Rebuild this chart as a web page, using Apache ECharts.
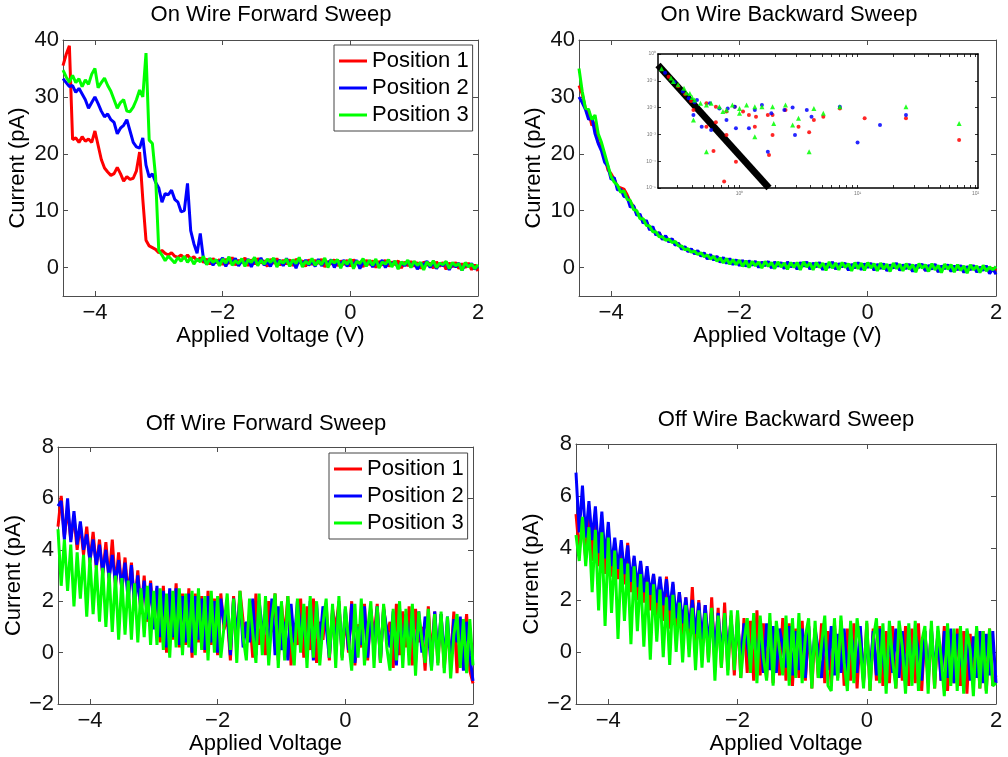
<!DOCTYPE html>
<html>
<head>
<meta charset="utf-8">
<title>Wire sweeps</title>
<script src="https://cdn.jsdelivr.net/npm/echarts@6/dist/echarts.min.js"></script>
<style>
  html, body { margin: 0; padding: 0; background: #ffffff; }
  #chart { width: 1008px; height: 757px; }
</style>
</head>
<body>
<div id="chart"></div>
<script>
// ---------------- data ----------------
const voltage = [
  -4.5,-4.45,-4.4,-4.35,-4.3,-4.25,-4.2,-4.15,-4.1,-4.05,
  -4,-3.95,-3.9,-3.85,-3.8,-3.75,-3.7,-3.65,-3.6,-3.55,
  -3.5,-3.45,-3.4,-3.35,-3.3,-3.25,-3.2,-3.15,-3.1,-3.05,
  -3,-2.95,-2.9,-2.85,-2.8,-2.75,-2.7,-2.65,-2.6,-2.55,
  -2.5,-2.45,-2.4,-2.35,-2.3,-2.25,-2.2,-2.15,-2.1,-2.05,
  -2,-1.95,-1.9,-1.85,-1.8,-1.75,-1.7,-1.65,-1.6,-1.55,
  -1.5,-1.45,-1.4,-1.35,-1.3,-1.25,-1.2,-1.15,-1.1,-1.05,
  -1,-0.95,-0.9,-0.85,-0.8,-0.75,-0.7,-0.65,-0.6,-0.55,
  -0.5,-0.45,-0.4,-0.35,-0.3,-0.25,-0.2,-0.15,-0.1,-0.05,
  0,0.05,0.1,0.15,0.2,0.25,0.3,0.35,0.4,0.45,
  0.5,0.55,0.6,0.65,0.7,0.75,0.8,0.85,0.9,0.95,
  1,1.05,1.1,1.15,1.2,1.25,1.3,1.35,1.4,1.45,
  1.5,1.55,1.6,1.65,1.7,1.75,1.8,1.85,1.9,1.95,
  2
];

// On wire, forward sweep (pA)
const onFwdP1 = [
  35.5,37.5,39,22.5,22.8,22,23,22.2,22.6,22,
  24,21.5,19,17.5,16.8,16.2,16.5,17.6,16.5,15.2,
  16,15.5,15.7,17,20.3,12,4.8,3.8,3.5,3.2,
  2.6,3,2.5,2.2,2.6,2,1.8,2.2,1.6,2.2,
  1.5,1.9,1.2,1.7,0.9,1.5,0.6,1.6,0.8,1.4,
  0.5,1.5,0.7,1.8,0.4,1.3,0.9,1.7,0.3,1.4,
  0.6,1.6,0.8,1.2,0.2,1.5,0.7,1.6,0.4,1.3,
  0.6,1.4,0.3,1.5,0.8,1.2,0.2,1.4,0.5,1.3,
  0.7,1.5,0.1,1.1,0.6,1.4,0.3,1.2,0.5,1.3,
  0.2,1.4,0.6,1.0,0.1,1.3,0.5,1.2,0.0,1.1,
  0.4,1.3,0.2,1.0,0.5,1.2,-0.1,1.0,0.3,1.1,
  0.2,0.9,-0.2,1.0,0.4,0.8,-0.1,1.0,0.2,0.9,
  -0.3,0.8,0.1,0.9,-0.2,0.7,0.0,0.8,-0.4,0.5,
  -0.6
];
const onFwdP2 = [
  33.2,32.5,31.8,32,30.8,31.5,30.5,29.5,28,29,
  30,28.8,27.5,26.5,27,26,25.5,23.5,24.5,25,
  26,24,22,21.2,21,22.8,18,15.9,16.5,15,
  14,11.5,13,12.8,13.6,12,11.5,9.8,10,14.8,
  6.5,4.2,2.5,6,1.5,0.6,1.6,0.4,1.3,0.9,
  1.7,0.2,1.4,0.8,1.6,0.3,1.2,0.7,1.5,0.1,
  1.3,0.6,1.7,0.4,1.1,0.2,1.5,0.8,1.3,0.3,
  1.6,0.5,1.2,-0.1,1.4,0.6,1.3,0.4,1.1,0.2,
  1.5,0.3,1.2,0.7,1.4,0.0,1.2,0.6,1.3,0.2,
  1.1,0.4,1.3,-0.2,1.0,0.5,1.2,0.1,0.9,0.4,
  1.3,0.0,1.0,0.6,1.1,-0.1,0.9,0.3,1.2,0.1,
  1.0,-0.3,0.8,0.4,1.1,0.0,0.9,-0.2,0.7,0.3,
  1.0,-0.4,0.7,0.1,0.8,-0.5,0.6,0.2,0.7,-0.3,
  0.3
];
const onFwdP3 = [
  34.7,33.5,32.6,33.8,32.5,33.2,31.8,33,32.2,34,
  35,31.6,32.5,33.3,32,31,29.5,28,29,29.5,
  27.5,27.4,28.2,29.5,31.2,30,37.7,22.4,21.8,16,
  3,2.2,1.2,2,1.4,0.8,1.8,1.1,2,0.9,
  1.7,0.6,1.5,1.0,2.0,0.5,1.6,0.9,1.4,0.3,
  1.5,0.8,1.9,0.4,1.2,0.7,1.6,0.2,1.4,0.9,
  1.8,0.3,1.3,0.6,1.5,0.9,1.7,0.1,1.2,0.8,
  1.5,0.2,1.4,0.7,1.8,0.1,1.1,0.6,1.6,0.4,
  1.2,0.5,1.7,0.0,1.3,0.8,1.4,-0.1,1.2,0.6,
  1.5,-0.2,1.1,0.7,1.6,0.2,1.3,0.4,1.5,-0.1,
  1.0,0.6,1.4,0.1,1.2,-0.3,1.0,0.5,1.3,0.0,
  1.1,0.4,0.9,-0.4,1.0,0.3,1.2,0.0,0.8,0.5,
  1.1,-0.2,0.9,0.3,0.7,-0.5,0.9,0.1,0.6,-0.2,
  0.5
];

// On wire, backward sweep (pA)
const onBwdP1 = [
  32,30.5,28,27.5,25,25.5,22,21.5,19.5,17.2,
  16.5,15.5,14.2,14,13.8,12.8,11.5,10.8,9.5,9.2,
  8,8.1,6.8,6.9,5.8,6.1,5,5.5,4.6,5,
  4.1,4.2,3.4,3.6,2.9,3.2,2.5,2.9,2.1,2.5,
  1.6,2.2,1.4,1.9,1.0,1.7,0.8,1.5,0.6,1.3,
  0.4,1.2,0.3,1.1,0.5,1.0,0.1,0.9,0.4,1.0,
  0.0,0.9,0.3,0.8,-0.1,0.9,0.2,0.7,-0.2,0.8,
  0.3,0.9,-0.2,0.7,0.2,0.8,-0.3,0.6,0.1,0.9,
  -0.2,0.6,0.2,0.7,-0.4,0.5,0.0,0.8,-0.3,0.6,
  0.1,0.7,-0.4,0.5,-0.1,0.6,-0.5,0.4,0.0,0.7,
  -0.4,0.4,-0.1,0.5,-0.6,0.3,0.1,0.5,-0.5,0.3,
  -0.2,0.5,-0.7,0.2,-0.1,0.4,-0.6,0.2,-0.3,0.3,
  -0.8,0.1,-0.3,0.3,-0.7,0.0,-0.4,0.2,-0.9,-0.1,
  -0.6
];
const onBwdP2 = [
  30,29,27.8,26,26.5,23.5,21.8,20.5,18.5,17.8,
  15.5,15.8,13.6,13.8,12.5,12.4,10.6,10.9,9.2,9.4,
  7.8,8.3,6.6,7.2,5.7,6.2,4.9,5.6,4.5,5.1,
  3.9,4.3,3.2,3.7,2.8,3.3,2.4,3.0,2.0,2.6,
  1.5,2.3,1.3,2.0,0.9,1.8,0.7,1.6,0.5,1.4,
  0.3,1.3,0.2,1.2,0.4,1.1,0.0,1.0,0.3,1.1,
  -0.1,1.0,0.2,0.9,-0.2,1.0,0.1,0.8,-0.3,0.9,
  0.2,1.0,-0.3,0.8,0.1,0.9,-0.4,0.7,0.0,1.0,
  -0.3,0.7,0.1,0.8,-0.5,0.6,-0.1,0.9,-0.4,0.7,
  0.0,0.8,-0.5,0.6,-0.2,0.7,-0.6,0.5,-0.1,0.8,
  -0.5,0.5,-0.2,0.6,-0.7,0.4,0.0,0.6,-0.6,0.4,
  -0.3,0.6,-0.8,0.3,-0.2,0.5,-0.7,0.3,-0.4,0.4,
  -0.9,0.2,-0.4,0.4,-0.8,0.1,-0.5,0.3,-1.1,-0.2,
  -1.2
];
const onBwdP3 = [
  35,31,28,27.8,26,26.8,23.5,22,20,18,
  16,15,14.5,13.2,13.5,12,11.8,10.2,10,8.6,
  8.6,7.4,7.3,6.3,6.3,5.4,5.4,4.8,5,4.4,
  4.6,3.8,3.8,3.1,3.3,2.7,2.9,2.3,2.6,1.9,
  2.2,1.5,2.0,1.1,1.7,0.8,1.6,0.6,1.4,0.5,
  1.3,0.2,1.2,0.0,1.1,0.3,1.0,-0.1,1.1,0.2,
  0.9,-0.2,1.0,0.1,0.8,-0.3,0.9,0.0,0.9,-0.4,
  1.0,0.1,0.8,-0.4,0.9,0.0,0.8,-0.5,1.0,-0.1,
  0.8,-0.4,0.9,0.0,0.7,-0.6,0.9,-0.2,0.8,-0.5,
  0.9,-0.1,0.7,-0.6,0.8,-0.3,0.6,-0.7,0.8,-0.2,
  0.6,-0.6,0.7,-0.3,0.5,-0.8,0.7,-0.1,0.5,-0.7,
  0.7,-0.4,0.4,-0.9,0.6,-0.3,0.5,-0.8,0.5,-0.5,
  0.3,-1.0,0.5,-0.4,0.3,-0.9,0.4,-0.6,0.1,-0.4,
  0.2
];

// Off wire, forward sweep (pA)
const offFwdP1 = [
  4.9,6.1,4.5,5.6,4.4,5.3,4.0,5.0,3.8,4.9,
  3.5,4.7,3.3,4.4,3.0,4.3,2.8,4.4,2.6,3.9,
  2.4,3.7,2.2,3.5,1.8,3.2,1.5,3.0,1.2,2.8,
  1.0,2.5,0.4,2.6,0.0,2.4,0.5,2.7,0.2,2.3,
  0.3,2.5,-0.2,2.3,0.4,2.2,0.0,2.4,0.3,2.1,
  -0.1,2.3,0.9,1.4,-0.3,2.2,0.4,2.4,1.2,0.6,
  1.5,-0.2,2.3,0.3,1.2,-0.1,2.0,0.8,2.3,-0.3,
  1.9,0.6,2.2,-0.5,1.0,0.3,2.1,-0.2,1.8,0.1,
  2.1,-0.4,1.2,0.5,1.9,-0.3,1.7,0.9,2.0,-0.2,
  1.4,0.0,2.0,-0.5,1.1,0.2,1.9,-0.3,1.7,0.6,
  1.9,-0.4,1.8,0.7,1.2,-0.6,1.9,-0.1,1.6,0.2,
  1.8,-0.5,1.7,0.4,1.0,-0.7,1.8,-0.2,1.6,-0.4,
  1.5,-0.6,0.9,-0.3,1.6,-0.8,1.3,0.3,1.5,-0.7,
  -1.2
];
const offFwdP2 = [
  5.7,5.9,4.4,6.0,4.3,5.5,4.2,5.1,4.0,4.6,
  3.6,4.4,3.4,4.2,3.1,4.0,2.9,3.8,2.7,3.6,
  2.5,3.5,2.0,3.4,1.8,3.0,1.6,2.8,1.3,2.7,
  0.9,2.6,0.6,2.4,0.2,2.5,0.6,2.5,0.3,2.2,
  0.4,2.3,0.0,2.2,0.5,2.1,0.1,2.2,0.4,2.0,
  0.0,2.1,1.1,1.6,-0.1,2.1,0.5,2.2,0.2,1.2,
  0.4,2.1,-0.1,2.0,0.9,1.3,0.3,2.1,-0.1,1.8,
  0.1,1.2,-0.3,1.9,0.4,2.0,0.9,1.1,-0.1,2.0,
  -0.3,1.9,0.3,1.8,1.0,-0.2,1.6,0.2,1.9,-0.1,
  1.7,0.1,1.9,-0.4,1.0,0.3,1.8,-0.2,1.6,0.1,
  1.8,-0.3,1.7,0.9,0.2,1.6,-0.5,1.7,0.0,1.5,
  0.3,1.6,-0.4,1.6,0.0,1.4,0.7,-0.6,1.6,-0.1,
  1.5,-0.3,1.4,-0.5,1.3,0.4,1.4,-0.7,1.2,-0.1,
  -1.1
];
const offFwdP3 = [
  4.8,2.6,4.4,2.4,4.2,1.8,3.9,2.1,3.8,1.4,
  3.7,1.5,3.4,1.2,3.3,1.0,3.1,0.8,3.0,0.5,
  2.9,0.7,2.8,0.5,2.7,0.4,2.5,0.6,2.6,0.3,
  2.4,0.3,2.5,0.1,2.3,-0.2,2.4,0.2,2.5,-0.1,
  2.3,0.2,2.4,-0.1,2.5,0.1,2.2,-0.3,2.4,0.0,
  2.2,-0.2,1.0,2.3,0.1,2.1,-0.4,2.4,0.6,-0.3,
  2.1,0.8,-0.4,2.3,-0.1,2.2,-0.5,1.3,2.3,-0.6,
  2.0,-0.3,2.2,0.6,-0.5,2.1,0.0,1.9,-0.6,2.2,
  -0.2,2.0,-0.5,1.1,2.1,-0.2,1.9,-0.6,2.2,-0.3,
  1.8,0.5,-0.7,1.9,-0.2,2.1,-0.5,0.9,2.0,-0.6,
  1.8,-0.4,1.9,0.2,-0.7,1.7,-0.3,2.0,-0.6,1.7,
  -0.5,1.9,-0.9,1.6,0.5,-0.4,1.7,-0.7,1.5,-0.5,
  1.6,-0.8,1.4,-1.0,0.7,1.5,-0.6,1.3,-0.8,1.3,
  -0.5
];

// Off wire, backward sweep (pA)
const offBwdP1 = [
  5.3,3.9,5.0,3.6,5.5,3.5,5.1,3.3,4.7,3.0,
  4.5,2.9,4.2,2.8,4.0,2.6,4.2,2.3,3.6,2.0,
  3.4,1.9,3.2,1.6,3.0,1.4,2.8,1.2,2.9,0.9,
  2.6,0.7,2.3,0.5,2.1,0.3,2.5,0.1,2.0,-0.1,
  1.8,-0.3,2.1,-0.5,1.7,-0.6,1.9,-0.7,1.4,-0.9,
  1.5,-1.0,1.3,-0.8,1.2,-1.1,1.6,-0.9,1.1,-1.0,
  1.2,-1.2,1.0,-0.9,1.3,-1.1,1.1,-1.3,0.9,-1.0,
  1.2,-1.1,1.0,-1.4,0.9,-1.0,1.1,-1.2,0.8,-1.3,
  1.1,-1.0,1.2,-1.3,0.9,-1.1,1.1,-1.4,0.8,-1.2,
  1.1,-1.5,0.9,-1.1,1.0,-1.3,0.8,-1.2,1.0,-1.4,
  0.8,-1.1,1.0,-1.3,0.9,-1.2,1.1,-1.5,0.8,-1.2,
  0.9,-1.4,0.8,-1.1,1.0,-1.5,0.7,-1.2,0.9,-1.3,
  0.8,-1.6,0.7,-1.2,0.9,-1.4,0.8,-1.5,0.9,-1.3,
  -0.9
];
const offBwdP2 = [
  6.9,4.6,6.4,4.4,5.8,4.3,5.6,3.8,5.4,3.6,
  5.0,3.3,4.4,3.2,4.3,3.0,4.1,2.7,3.7,2.5,
  3.5,2.3,3.3,2.2,3.0,1.9,2.9,1.8,2.8,1.6,
  2.7,1.3,2.3,1.1,2.1,0.9,2.0,0.7,1.9,0.5,
  1.8,0.3,1.6,0.1,1.5,-0.1,1.4,0.0,1.3,-0.3,
  1.2,-0.4,1.1,0.3,-0.5,1.2,-0.6,1.0,-0.8,1.1,
  -0.7,1.0,-0.8,0.9,0.2,-0.6,1.0,-0.9,0.8,-0.7,
  0.9,-1.0,1.0,-0.8,0.9,0.1,-1.0,0.8,-0.7,1.0,
  -0.9,0.7,-0.8,0.9,-1.0,0.8,0.0,-0.8,1.0,-1.1,
  0.7,-0.9,0.8,-0.9,0.9,-0.2,-1.1,0.7,-0.8,0.9,
  -1.0,0.8,-1.2,0.9,-0.9,0.7,0.1,-1.1,0.8,-1.0,
  0.9,-0.8,0.7,-1.1,0.8,-1.0,0.9,-1.2,0.7,-0.2,
  -0.9,0.8,-1.1,0.6,-1.0,0.8,-1.2,0.7,-0.9,0.8,
  -1.2
];
const offBwdP3 = [
  4.5,3.5,5.2,3.3,4.8,2.3,4.7,1.6,4.6,1.0,
  4.4,1.5,3.9,0.5,3.6,1.2,3.4,0.3,3.3,0.8,
  3.0,0.2,2.7,-0.3,2.6,0.4,2.4,-0.2,2.1,-0.5,
  2.2,0.0,1.9,-0.4,1.8,-0.2,1.7,-0.7,1.6,-0.6,
  1.5,-0.4,1.7,-1.1,1.4,-0.6,1.5,-0.9,1.6,-0.7,
  1.6,-1.0,0.4,1.3,-0.8,1.5,-1.2,1.4,-0.2,-1.1,
  1.5,-1.3,1.2,0.1,-0.9,1.4,-1.3,1.3,-1.0,1.5,
  -1.2,0.6,1.3,-1.4,1.2,-1.0,0.3,1.4,-1.3,-1.5,
  1.3,-1.1,1.4,-0.4,-1.5,1.2,-1.2,1.3,0.2,-1.4,
  1.2,-1.5,0.5,1.3,-1.2,1.1,-1.6,1.2,-0.3,-1.4,
  1.2,0.2,-1.6,1.1,-1.3,1.2,-1.5,0.4,1.0,-1.6,
  1.2,-1.4,1.0,-0.2,-1.7,1.1,-1.3,0.9,-1.5,1.0,
  -1.6,0.9,0.1,-1.7,1.0,-1.4,0.8,-1.6,0.9,-1.3,
  -1.2
];

// Inset (log10 decades on both axes)
const insetLineX = [-0.69, 0.25];
const insetLineY = [-0.41, -5.0];
const insetP1 = [
  [-0.6,-0.85],[-0.52,-1.2],[-0.46,-1.5],[-0.41,-1.75],
  [-0.39,-2.09],[-0.28,-1.84],[-0.20,-1.97],[-0.11,-2.15],[-0.04,-1.97],[0.03,-2.15],
  [0.08,-2.28],[0.14,-2.34],[0.24,-2.28],[0.28,-2.28],[0.39,-2.09],[0.50,-2.71],
  [0.63,-2.46],[0.71,-2.34],[0.85,-2.03],[1.06,-2.40],[1.41,-2.40],[1.86,-3.21],
  [-0.28,-2.71],[-0.20,-2.55],[-0.11,-3.02],[-0.03,-4.02],[0.13,-2.71],[0.28,-3.02],
  [0.25,-3.77],[-0.13,-4.76],[-0.22,-3.62],[0.59,-2.92]
];
const insetP2 = [
  [-0.63,-0.7],[-0.55,-1.05],[-0.48,-1.4],[-0.43,-1.65],[-0.38,-1.8],
  [-0.39,-2.28],[-0.36,-1.72],[-0.25,-1.84],[-0.17,-2.03],[-0.11,-2.46],[-0.10,-2.03],
  [-0.04,-1.97],[-0.03,-2.77],[0.08,-2.77],[0.13,-2.09],[0.19,-1.90],[0.27,-2.21],
  [0.38,-2.09],[0.45,-2.00],[0.47,-3.02],[0.57,-2.09],[0.61,-2.34],[0.85,-1.97],
  [1.0,-3.30],[1.19,-2.65],[1.41,-2.28],[-0.32,-2.71],[-0.24,-2.84],[0.24,-3.65]
];
const insetP3 = [
  [-0.66,-0.55],[-0.58,-0.9],[-0.52,-1.15],[-0.45,-1.45],[-0.4,-1.62],
  [-0.56,-1.03],[-0.47,-1.28],[-0.42,-1.47],[-0.38,-1.72],[-0.33,-1.84],[-0.28,-1.90],
  [-0.24,-1.84],[-0.17,-1.97],[-0.14,-2.15],[-0.11,-2.09],[-0.06,-1.90],[0.0,-2.03],
  [0.0,-2.21],[0.06,-1.90],[0.13,-1.97],[0.19,-1.97],[0.28,-1.97],[0.39,-1.90],
  [0.50,-2.40],[0.63,-2.03],[0.71,-2.21],[0.85,-1.97],[1.41,-1.97],[1.86,-2.59],
  [-0.39,-2.46],[-0.28,-3.65],[0.13,-3.09],[0.29,-2.59],[0.45,-2.65],[0.59,-3.65]
];

const voltTicks = [-4, -2, 0, 2];
const onTicks = [0, 10, 20, 30, 40];
const offTicks = [-2, 0, 2, 4, 6, 8];
const insetXMajor = [0, 1, 2];
const insetYMajor = [-5, -4, -3, -2, -1, 0];

// ---------------- chart ----------------
const FONT = "'Liberation Sans', Arial, Helvetica, sans-serif";
const AX = '#4d4d4d';
const RED = '#ff0000', BLUE = '#0000ff', GREEN = '#00ff00';
const minusFmt = v => (v < 0 ? '\u2212' + Math.abs(v) : String(v));
const SUP = {'-':'\u207B','0':'\u2070','1':'\u00B9','2':'\u00B2','3':'\u00B3','4':'\u2074','5':'\u2075'};
const powFmt = v => '10' + String(v).split('').map(c => SUP[c] || c).join('');

const grids = [
  {left: 63, top: 40, width: 415, height: 256},
  {left: 579, top: 40, width: 417, height: 256},
  {left: 58, top: 447, width: 415, height: 257},
  {left: 576, top: 444, width: 420, height: 260},
  {left: 658, top: 54, width: 320, height: 134, show: true, backgroundColor: '#ffffff', borderWidth: 0, z: 10}
];

function xPair(gi, name, gap) {
  const base = {
    type: 'value', gridIndex: gi, min: -4.5, max: 2,
    axisLine: {show: true, onZero: false, lineStyle: {color: AX, width: 1}},
    axisTick: {show: true, inside: true, length: 5, customValues: voltTicks, lineStyle: {color: AX}},
    splitLine: {show: false}
  };
  return [
    Object.assign({}, base, {
      position: 'bottom', name: name, nameLocation: 'middle', nameGap: gap,
      nameTextStyle: {fontSize: 22, color: '#000', fontFamily: FONT},
      axisLabel: {customValues: voltTicks, formatter: minusFmt, fontSize: 22, color: '#111', fontFamily: FONT, margin: 6}
    }),
    Object.assign({}, base, {position: 'top', axisLabel: {show: false}})
  ];
}
function yPair(gi, min, max, ticks, gap) {
  const base = {
    type: 'value', gridIndex: gi, min: min, max: max,
    axisLine: {show: true, onZero: false, lineStyle: {color: AX, width: 1}},
    axisTick: {show: true, inside: true, length: 5, customValues: ticks, lineStyle: {color: AX}},
    splitLine: {show: false}
  };
  return [
    Object.assign({}, base, {
      position: 'left', name: 'Current (pA)', nameLocation: 'middle', nameGap: gap, nameRotate: 90,
      nameTextStyle: {fontSize: 22, color: '#000', fontFamily: FONT},
      axisLabel: {customValues: ticks, formatter: minusFmt, fontSize: 22, color: '#111', fontFamily: FONT, margin: 4}
    }),
    Object.assign({}, base, {position: 'right', axisLabel: {show: false}})
  ];
}

const insetXTicks = [];
[-1, 0, 1].forEach(d => {
  insetXTicks.push(d);
  [2,3,4,5,6,7,8,9].forEach(k => {
    const t = d + Math.log10(k);
    if (t > -0.69 && t < 2.02) insetXTicks.push(t);
  });
});
insetXTicks.push(2);
const insetXTickList = insetXTicks.filter(t => t >= -0.69);

function insetX(pos) {
  return {
    type: 'value', gridIndex: 4, min: -0.69, max: 2.02, position: pos, z: 12,
    axisLine: {show: true, onZero: false, lineStyle: {color: '#000', width: 1.5}},
    axisTick: {show: true, inside: true, length: 3, customValues: insetXTickList, lineStyle: {color: '#000', width: 0.8}},
    axisLabel: pos === 'bottom'
      ? {customValues: insetXMajor, formatter: powFmt, fontSize: 5, color: '#777', margin: 3, fontFamily: FONT}
      : {show: false},
    splitLine: {show: false}
  };
}
function insetY(pos) {
  return {
    type: 'value', gridIndex: 4, min: -5, max: 0, position: pos, z: 12,
    axisLine: {show: true, onZero: false, lineStyle: {color: '#000', width: 1.5}},
    axisTick: {show: true, inside: true, length: 3, customValues: insetYMajor, lineStyle: {color: '#000', width: 0.8}},
    axisLabel: pos === 'left'
      ? {customValues: insetYMajor, formatter: powFmt, fontSize: 5, color: '#777', margin: 2, fontFamily: FONT}
      : {show: false},
    splitLine: {show: false}
  };
}

const xAxes = [].concat(
  xPair(0, 'Applied Voltage (V)', 27),
  xPair(1, 'Applied Voltage (V)', 27),
  xPair(2, 'Applied Voltage', 22),
  xPair(3, 'Applied Voltage', 22),
  [insetX('bottom'), insetX('top')]
);
const yAxes = [].concat(
  yPair(0, -5, 40, onTicks, 34),
  yPair(1, -5, 40, onTicks, 34),
  yPair(2, -2, 8, offTicks, 29),
  yPair(3, -2, 8, offTicks, 31),
  [insetY('left'), insetY('right')]
);

function lineSeries(name, color, ys, gi) {
  return {
    name: name, type: 'line', xAxisIndex: 2 * gi, yAxisIndex: 2 * gi,
    data: voltage.map((v, i) => [v, ys[i]]),
    showSymbol: false, symbol: 'none', clip: true, silent: true,
    lineStyle: {color: color, width: 3}, itemStyle: {color: color},
    animation: false
  };
}
const panels = [
  [onFwdP1, onFwdP2, onFwdP3],
  [onBwdP1, onBwdP2, onBwdP3],
  [offFwdP1, offFwdP2, offFwdP3],
  [offBwdP1, offBwdP2, offBwdP3]
];
const series = [];
panels.forEach((arrs, gi) => {
  series.push(lineSeries('Position 1', RED, arrs[0], gi));
  series.push(lineSeries('Position 2', BLUE, arrs[1], gi));
  series.push(lineSeries('Position 3', GREEN, arrs[2], gi));
});
series.push({
  type: 'line', xAxisIndex: 8, yAxisIndex: 8, z: 11, silent: true, clip: true,
  data: insetLineX.map((x, i) => [x, insetLineY[i]]),
  showSymbol: false, symbol: 'none', lineStyle: {color: '#000', width: 7}, animation: false
});
[[insetP1, RED, 'circle', 4], [insetP2, BLUE, 'circle', 4], [insetP3, GREEN, 'triangle', 5]].forEach(s => {
  series.push({
    type: 'scatter', xAxisIndex: 8, yAxisIndex: 8, z: 13, silent: true,
    data: s[0], symbol: s[2], symbolSize: s[3], itemStyle: {color: s[1], opacity: 0.85}, animation: false
  });
});

const titleStyle = {fontSize: 22, fontWeight: 'normal', color: '#000', fontFamily: FONT};
const legendBase = {
  orient: 'vertical', padding: [5, 4, 5, 5], itemGap: 5, itemWidth: 28, itemHeight: 3, icon: 'rect',
  borderColor: '#444', borderWidth: 1, backgroundColor: '#ffffff', selectedMode: false,
  textStyle: {fontSize: 22, color: '#000', fontFamily: FONT, lineHeight: 22},
  data: ['Position 1', 'Position 2', 'Position 3']
};

const option = {
  backgroundColor: '#ffffff',
  animation: false,
  title: [
    {text: 'On Wire Forward Sweep', left: 271, top: 4, textAlign: 'center', padding: 0, textStyle: titleStyle},
    {text: 'On Wire Backward Sweep', left: 789, top: 4, textAlign: 'center', padding: 0, textStyle: titleStyle},
    {text: 'Off Wire Forward Sweep', left: 266, top: 413, textAlign: 'center', padding: 0, textStyle: titleStyle},
    {text: 'Off Wire Backward Sweep', left: 786, top: 409, textAlign: 'center', padding: 0, textStyle: titleStyle}
  ],
  legend: [
    Object.assign({}, legendBase, {left: 334, top: 45}),
    Object.assign({}, legendBase, {left: 329, top: 453})
  ],
  grid: grids,
  xAxis: xAxes,
  yAxis: yAxes,
  series: series
};

const chart = echarts.init(document.getElementById('chart'), null, {renderer: 'canvas'});
chart.setOption(option);
</script>
</body>
</html>
